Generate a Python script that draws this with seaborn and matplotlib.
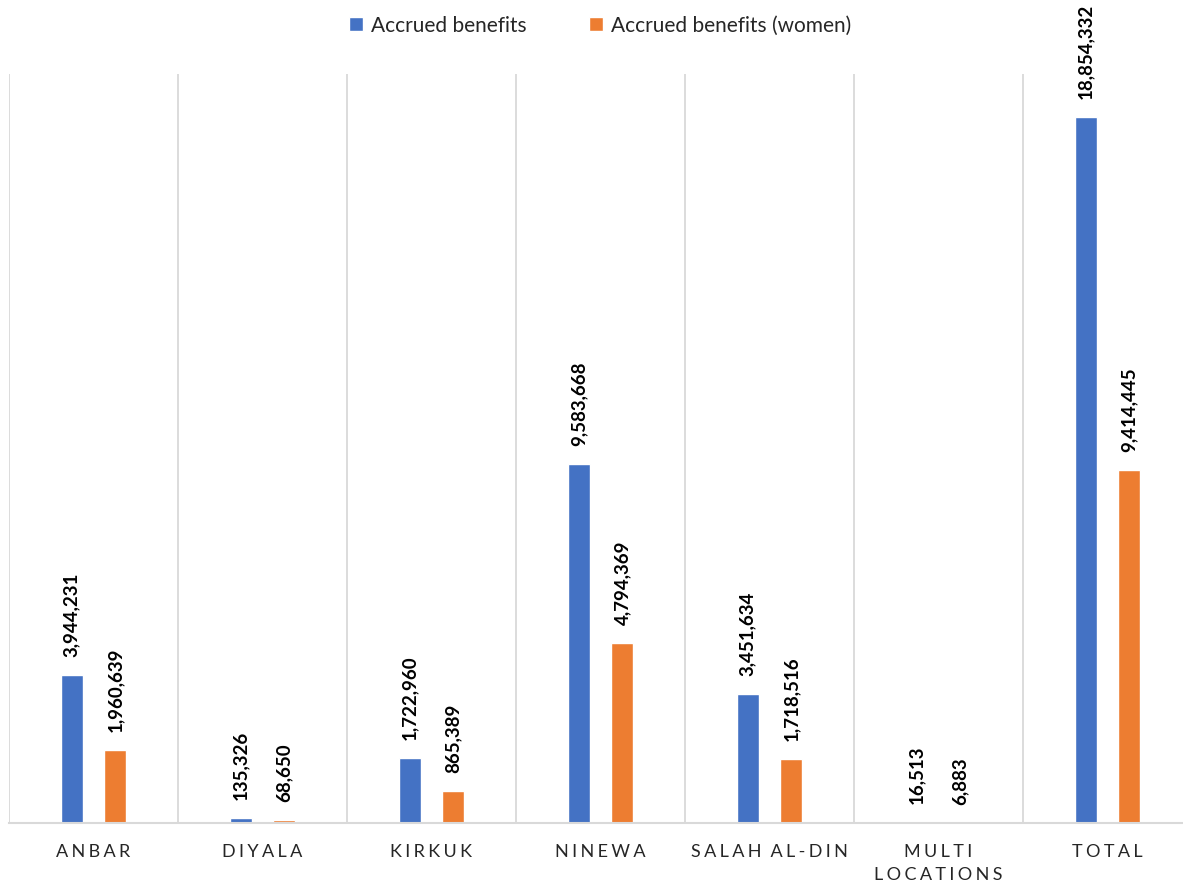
import matplotlib
matplotlib.use("Agg")
import matplotlib.pyplot as plt
import seaborn as sns
import pandas as pd

# Governorates and accrued benefits per series
regions = ["ANBAR", "DIYALA", "KIRKUK", "NINEWA", "SALAH AL-DIN", "MULTI\nLOCATIONS", "TOTAL"]
accrued = [3944231, 135326, 1722960, 9583668, 3451634, 16513, 18854332]
accrued_women = [1960639, 68650, 865389, 4794369, 1718516, 6883, 9414445]
series_names = ["Accrued benefits", "Accrued benefits (women)"]
palette = ["#4472C4", "#ED7D31"]

df = pd.DataFrame({
    "region": regions * 2,
    "value": accrued + accrued_women,
    "series": [series_names[0]] * len(regions) + [series_names[1]] * len(regions),
})

sns.set_style("white")
plt.rcParams["font.family"] = ["Lato", "DejaVu Sans"]

W, H = 1183, 888
fig = plt.figure(figsize=(W / 100, H / 100), dpi=100)
ax = fig.add_axes([9 / W, 65 / H, 1183 / W, (823 - 74) / H])

sns.barplot(data=df, x="region", y="value", hue="series", palette=palette,
            width=0.52, gap=0.5, saturation=1, ax=ax, legend=True)

ax.set_ylim(0, 20_000_000)
ax.set_xlim(-0.5, len(regions) - 0.5)

# Value labels above each bar
for cont in ax.containers:
    ax.bar_label(cont, labels=[f"{v:,.0f}" for v in cont.datavalues],
                 rotation=90, padding=13, fontsize=13.5, fontweight="bold",
                 color="#000000")

# Category separators
for x in [i - 0.5 for i in range(len(regions) + 1)]:
    ax.axvline(x, color="#D9D9D9", lw=1.3, zorder=0)

for s in ["top", "right", "left"]:
    ax.spines[s].set_visible(False)
ax.spines["bottom"].set_color("#D9D9D9")
ax.spines["bottom"].set_linewidth(1.5)

ax.set_yticks([])
ax.set_xlabel("")
ax.set_ylabel("")


def letter_spaced(label):
    sep = "\u2009\u200a"
    word_sep = sep * 2 + "\u2009"
    lines = []
    for line in label.split("\n"):
        lines.append(word_sep.join(sep.join(word) for word in line.split(" ")))
    return "\n".join(lines)


ax.set_xticks(range(len(regions)))
ax.set_xticklabels([letter_spaced(r) for r in regions], fontsize=13,
                   color="#262626", linespacing=1.55)
ax.tick_params(axis="x", length=0, pad=15)

ax.legend(loc="upper center", bbox_to_anchor=(0.5, 1.103),
          ncol=2, frameon=False, fontsize=15, handlelength=0.65, handleheight=0.65,
          handletextpad=0.4, columnspacing=3.0)

fig.savefig("out.png", dpi=100, facecolor="white")
